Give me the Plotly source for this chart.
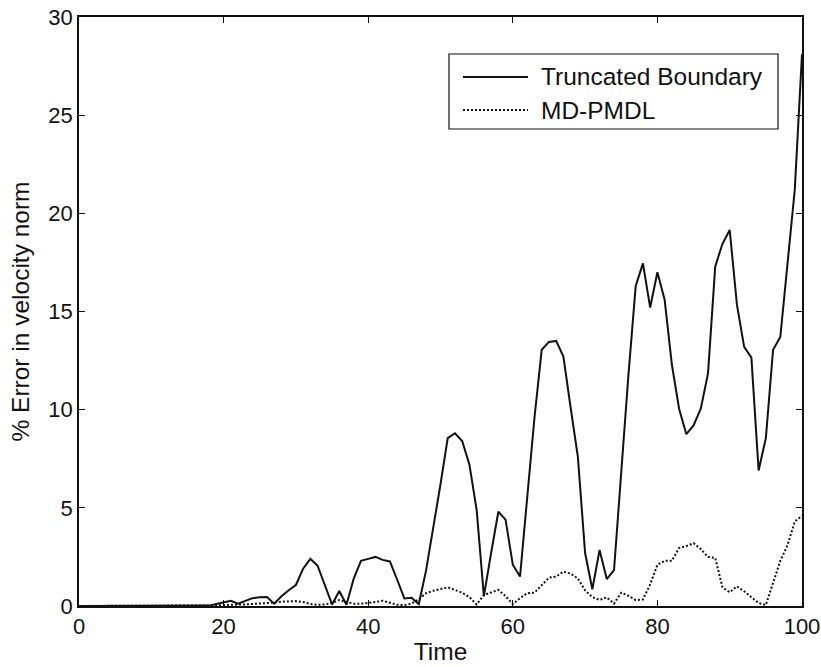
import plotly.graph_objects as go

time = list(range(0, 101))

truncated = [
    0.0, 0.0, 0.0, 0.0, 0.0, 0.0, 0.0, 0.0, 0.0, 0.0,
    0.0, 0.0, 0.0, 0.0, 0.0, 0.0, 0.0, 0.0, 0.02, 0.1,
    0.2, 0.27, 0.12, 0.25, 0.4, 0.44, 0.46, 0.12, 0.5, 0.8,
    1.07, 1.9, 2.4, 2.05, 1.1, 0.08, 0.76, 0.06, 1.4, 2.3,
    2.4, 2.5, 2.35, 2.27, 1.35, 0.38, 0.42, 0.1, 1.8, 3.9,
    6.2, 8.55, 8.8, 8.4, 7.2, 4.9, 0.5, 2.7, 4.8, 4.4,
    2.1, 1.5, 5.7, 9.6, 13.05, 13.45, 13.5, 12.7, 10.1, 7.6,
    2.7, 0.85, 2.85, 1.37, 1.83, 7.0, 11.8, 16.3, 17.45, 15.2,
    17.0, 15.6, 12.3, 10.05, 8.75, 9.2, 10.05, 11.85, 17.3, 18.45,
    19.15, 15.35, 13.2, 12.65, 6.9, 8.55, 13.05, 13.7, 17.5, 21.2,
    28.1,
]

md_pmdl = [
    0.0, 0.0, 0.0, 0.0, 0.0, 0.0, 0.0, 0.0, 0.0, 0.0,
    0.0, 0.0, 0.0, 0.0, 0.0, 0.0, 0.01, 0.01, 0.02, 0.03,
    0.05, 0.05, 0.05, 0.08, 0.1, 0.12, 0.15, 0.18, 0.22, 0.25,
    0.25, 0.2, 0.1, 0.06, 0.08, 0.15, 0.3, 0.2, 0.12, 0.12,
    0.15, 0.2, 0.27, 0.16, 0.06, 0.05, 0.12, 0.35, 0.65, 0.78,
    0.88, 0.95, 0.82, 0.68, 0.45, 0.08, 0.56, 0.68, 0.82, 0.5,
    0.1, 0.4, 0.65, 0.68, 1.05, 1.44, 1.5, 1.75, 1.65, 1.4,
    0.8, 0.45, 0.31, 0.44, 0.12, 0.68, 0.52, 0.3, 0.33, 1.1,
    2.1, 2.3, 2.3, 2.95, 3.05, 3.2, 2.9, 2.5, 2.45, 0.95,
    0.7, 1.0, 0.75, 0.45, 0.15, 0.05, 1.2, 2.3, 3.1, 4.3,
    4.6,
]

series_names = ["Truncated Boundary", "MD-PMDL"]
x_ticks = [0, 20, 40, 60, 80, 100]
y_ticks = [0, 5, 10, 15, 20, 25, 30]

FONT = "Liberation Sans, Arial, Helvetica, sans-serif"
INK = "#111111"

fig = go.Figure()
fig.add_trace(go.Scatter(x=time, y=truncated, mode="lines", name=series_names[0],
                         line=dict(color=INK, width=2), showlegend=False))
fig.add_trace(go.Scatter(x=time, y=md_pmdl, mode="lines", name=series_names[1],
                         line=dict(color=INK, width=2, dash="2px,2px"), showlegend=False))

# legend drawn in paper coordinates (box, line samples, labels)
W, H = 821, 667
ml, mr, mt, mb = 79, 19, 17, 61
pw, ph = W - ml - mr, H - mt - mb

def px(xp):
    return (xp - ml) / pw

def py(yp):
    return 1 - (yp - mt) / ph

shapes = [
    dict(type="rect", xref="paper", yref="paper", x0=px(449), x1=px(778), y0=py(129), y1=py(54),
         line=dict(color=INK, width=1.2), fillcolor="white", layer="above"),
    dict(type="line", xref="paper", yref="paper", x0=px(463), x1=px(528), y0=py(77), y1=py(77),
         line=dict(color=INK, width=2), layer="above"),
    dict(type="line", xref="paper", yref="paper", x0=px(463), x1=px(528), y0=py(110), y1=py(110),
         line=dict(color=INK, width=2, dash="2px,2px"), layer="above"),
]
annotations = [
    dict(xref="paper", yref="paper", x=px(541), y=py(y0), text=name, showarrow=False,
         xanchor="left", yanchor="middle", xshift=-2,
         font=dict(family=FONT, size=24.5, color=INK))
    for name, y0 in zip(series_names, [77, 110])
]

fig.update_layout(
    template="none",
    width=W, height=H,
    margin=dict(l=ml, r=mr, t=mt, b=mb, pad=0),
    paper_bgcolor="white", plot_bgcolor="white",
    font=dict(family=FONT, size=22, color=INK),
    shapes=shapes, annotations=annotations,
    showlegend=False,
)
fig.update_xaxes(range=[0, 100], tickvals=x_ticks, ticks="inside", ticklen=6, tickwidth=1.2,
                 tickcolor=INK, showline=True, linecolor=INK, linewidth=1.5, mirror="ticks",
                 showgrid=False, zeroline=False, automargin=False,
                 title=dict(text="Time", standoff=5, font=dict(size=24.5)),
                 tickfont=dict(size=22))
fig.update_yaxes(range=[0, 30], tickvals=y_ticks, ticks="inside", ticklen=6, tickwidth=1.2,
                 tickcolor=INK, showline=True, linecolor=INK, linewidth=1.5, mirror="ticks",
                 showgrid=False, zeroline=False, automargin=False,
                 title=dict(text="% Error in velocity norm", standoff=12, font=dict(size=24.5)),
                 tickfont=dict(size=22))

fig.write_html("out.html")
